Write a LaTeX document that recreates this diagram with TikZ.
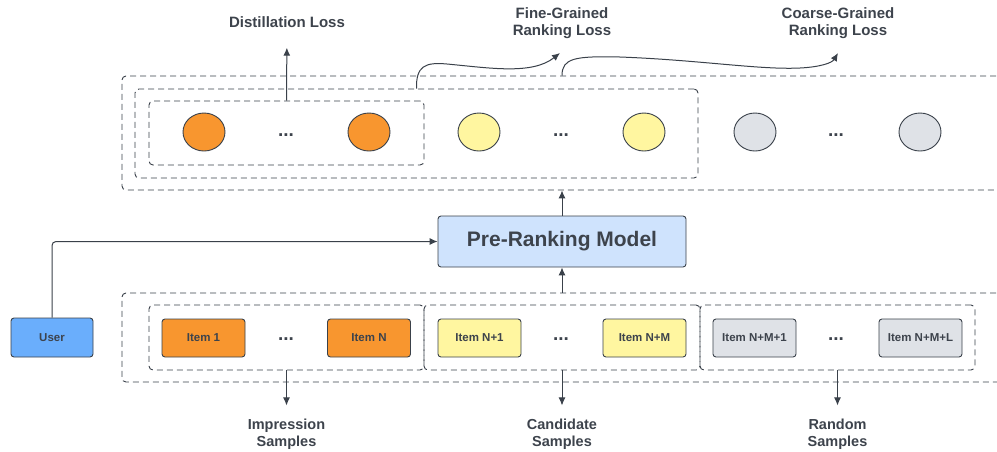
\documentclass[tikz,border=0pt]{standalone}
\usepackage{fontspec}
\setmainfont{Liberation Sans}
\usetikzlibrary{arrows.meta,shapes.geometric,positioning}

\definecolor{edge}{HTML}{3A414A}
\definecolor{txt}{HTML}{3D434C}
\definecolor{orangefill}{HTML}{F8962F}
\definecolor{yellowfill}{HTML}{FFF6A0}
\definecolor{grayfill}{HTML}{DFE2E7}
\definecolor{modelfill}{HTML}{CFE3FD}
\definecolor{userfill}{HTML}{6AAEFC}

\tikzset{
  groupbox/.style={draw=edge, line width=0.9pt, dash pattern=on 6pt off 4pt,
    rounded corners=4pt, inner sep=0pt},
  itembox/.style={draw=edge, line width=0.9pt, rounded corners=3pt,
    minimum width=83pt, minimum height=38pt, inner sep=0pt,
    font=\fontsize{11.5}{13}\selectfont\bfseries, text=txt},
  score/.style={draw=edge, ellipse, line width=0.9pt, minimum width=42pt,
    minimum height=38pt, inner sep=0pt},
  dotdotdot/.style={font=\fontsize{19}{19}\selectfont\bfseries, text=txt, inner sep=0pt},
  lossname/.style={font=\fontsize{15}{17}\selectfont\bfseries, text=txt,
    align=center, inner sep=0pt},
  samplename/.style={font=\fontsize{14.5}{17}\selectfont\bfseries, text=txt,
    align=center, inner sep=0pt},
  flow/.style={draw=edge, line width=1pt, -{Latex[length=8pt,width=7pt]}}
}

\begin{document}
\begin{tikzpicture}[x=1pt, y=-1pt]
    \useasboundingbox (0,0) rectangle (997,451);

    % score groups
    \node (topouter) [groupbox, minimum width=888pt, minimum height=114pt] at (566,133) {};
    \node (topmid) [groupbox, minimum width=563pt, minimum height=89pt] at (416.5,133.5) {};
    \node (topinner) [groupbox, minimum width=275pt, minimum height=64pt] at (286.5,133) {};

    \node (s1) [score, fill=orangefill] at (204,132) {};
    \node (sdots1) [dotdotdot] at (286,135) {...};
    \node (s2) [score, fill=orangefill] at (369,132) {};
    \node (s3) [score, fill=yellowfill] at (479,132) {};
    \node (sdots2) [dotdotdot] at (561,135) {...};
    \node (s4) [score, fill=yellowfill] at (644,132) {};
    \node (s5) [score, fill=grayfill] at (755,132) {};
    \node (sdots3) [dotdotdot] at (836,135) {...};
    \node (s6) [score, fill=grayfill] at (920,132) {};

    % losses
    \node (distill) [lossname] at (287,22) {Distillation Loss};
    \node (fineloss) [lossname] at (562,23) {Fine-Grained\\Ranking Loss};
    \node (coarseloss) [lossname] at (838,23) {Coarse-Grained\\Ranking Loss};
    \coordinate (finetip) at (560,53);
    \coordinate (coarsetip) at (838,53);

    \draw [flow, shorten >=20pt] (topinner.north) -- (distill.south);
    \draw [flow] (topmid.north) .. controls (416,66) and (425,62) .. (447,64)
        .. controls (490,68) and (532,75) .. (finetip);
    \draw [flow] (topouter.north -| fineloss) .. controls (562,58) and (575,56) .. (620,57)
        .. controls (700,60) and (760,70) .. (800,68)
        .. controls (820,67) and (832,63) .. (coarsetip);

    % model and user
    \node (model) [draw=edge, line width=0.9pt, rounded corners=3pt, fill=modelfill,
      minimum width=248pt, minimum height=51pt, text=txt,
      font=\fontsize{21}{23}\selectfont\bfseries] at (562,241.5) {Pre-Ranking Model};
    \node (user) [itembox, fill=userfill, minimum width=82pt, minimum height=39pt] at (52,337.5) {User};

    % sample groups
    \node (botouter) [groupbox, minimum width=888pt, minimum height=89pt] at (566,337.5) {};
    \node (impbox) [groupbox, minimum width=275pt, minimum height=65pt] at (286.5,337.5) {};
    \node (candbox) [groupbox, minimum width=276pt, minimum height=65pt] at (562,337.5) {};
    \node (randbox) [groupbox, minimum width=275pt, minimum height=65pt] at (837.5,337.5) {};

    \node (item1) [itembox, fill=orangefill] at (203.5,338) {Item 1};
    \node (idots1) [dotdotdot] at (286,339) {...};
    \node (itemN) [itembox, fill=orangefill] at (369,338) {Item N};
    \node (itemN1) [itembox, fill=yellowfill] at (479.5,338) {Item N+1};
    \node (idots2) [dotdotdot] at (561,339) {...};
    \node (itemNM) [itembox, fill=yellowfill] at (644.5,338) {Item N+M};
    \node (itemNM1) [itembox, fill=grayfill] at (754.5,338) {Item N+M+1};
    \node (idots3) [dotdotdot] at (836,339) {...};
    \node (itemNML) [itembox, fill=grayfill] at (920.5,338) {Item N+M+L};

    \node (implabel) [samplename, below=48pt of impbox] {Impression\\Samples};
    \node (candlabel) [samplename, below=48pt of candbox] {Candidate\\Samples};
    \node (randlabel) [samplename, below=48pt of randbox] {Random\\Samples};

    \draw [flow] (botouter.north -| model) -- (model.south);
    \draw [flow] (model.north) -- (topouter.south -| model);
    \draw [flow, rounded corners=4pt] (user.north) |- (model.west);

    \draw [flow, shorten >=13pt] (impbox.south) -- (implabel.north);
    \draw [flow, shorten >=13pt] (candbox.south) -- (candlabel.north);
    \draw [flow, shorten >=13pt] (randbox.south) -- (randlabel.north);
\end{tikzpicture}
\end{document}
